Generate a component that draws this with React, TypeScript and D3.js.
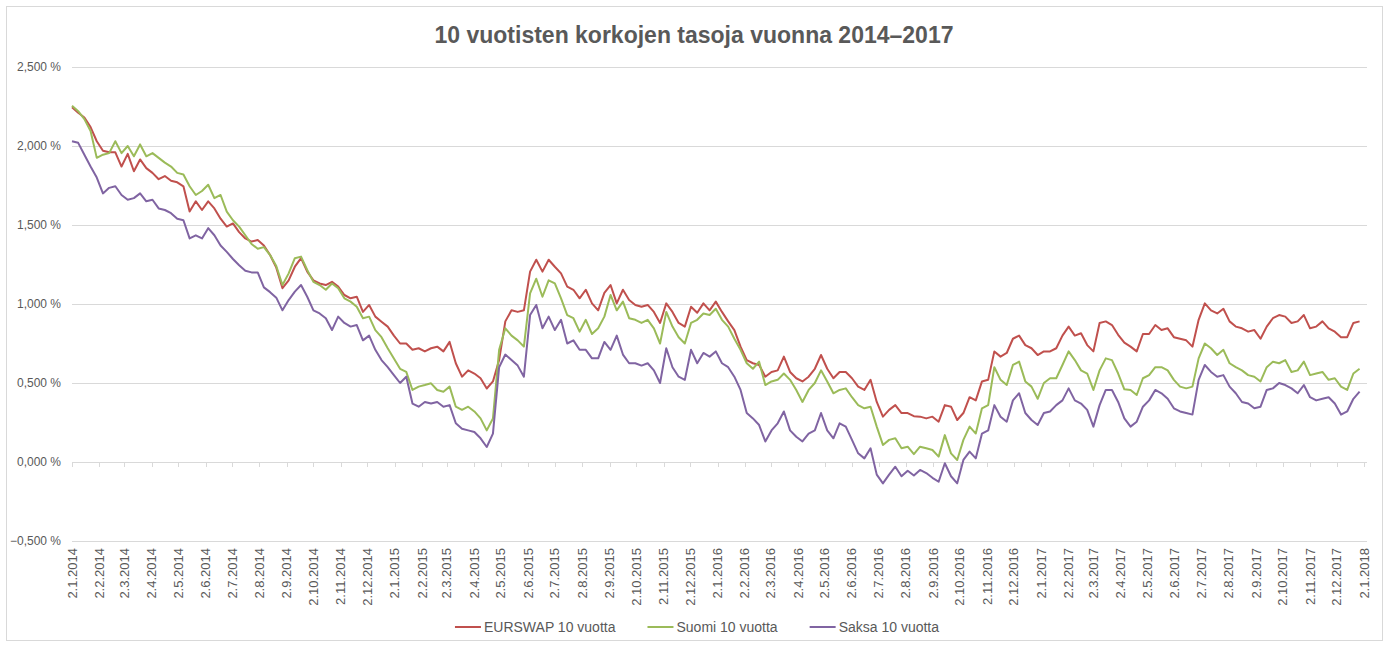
import React, { useEffect, useRef } from 'react';
import * as d3 from 'd3';

const chartTitle = '10 vuotisten korkojen tasoja vuonna 2014–2017';
const seriesNames = ['EURSWAP 10 vuotta', 'Suomi 10 vuotta', 'Saksa 10 vuotta'];
const seriesColors = ['#C0504D', '#9BBB59', '#8064A2'];
const yTicks = [-0.5, 0, 0.5, 1, 1.5, 2, 2.5];
const firstDay = new Date(2014, 0, 2);
const lastDay = new Date(2018, 0, 2);

// weekly readings, one every 7 days starting 2.1.2014 (%)
const eurswap = [
  2.245, 2.21, 2.18, 2.12, 2.03, 1.97, 1.96, 1.96, 1.87, 1.95,
  1.84, 1.915, 1.86, 1.83, 1.79, 1.81, 1.78, 1.77, 1.745, 1.585,
  1.65, 1.595, 1.65, 1.605, 1.54, 1.49, 1.51, 1.455, 1.415, 1.395,
  1.405, 1.37, 1.31, 1.23, 1.10, 1.15, 1.236, 1.29, 1.205, 1.15,
  1.13, 1.12, 1.14, 1.11, 1.057, 1.036, 1.046, 0.95, 0.994, 0.92,
  0.888, 0.857, 0.80, 0.75, 0.75, 0.71, 0.72, 0.70, 0.72, 0.73,
  0.70, 0.76, 0.625, 0.54, 0.58, 0.56, 0.53, 0.465, 0.51, 0.645,
  0.89, 0.96, 0.95, 0.96, 1.205, 1.28, 1.205, 1.28, 1.236, 1.194,
  1.11, 1.09, 1.036, 1.09, 1.004, 0.96, 1.07, 1.12, 1.004, 1.09,
  1.025, 0.994, 0.983, 0.994, 0.95, 0.88, 1.004, 0.95, 0.88, 0.857,
  0.983, 0.945, 1.004, 0.96, 1.015, 0.95, 0.89, 0.835, 0.73, 0.645,
  0.625, 0.614, 0.54, 0.57, 0.58, 0.667, 0.57, 0.53, 0.51, 0.54,
  0.59, 0.677, 0.59, 0.53, 0.57, 0.57, 0.53, 0.477, 0.456, 0.52,
  0.38, 0.287, 0.33, 0.36, 0.31, 0.31, 0.29, 0.287, 0.276, 0.287,
  0.255, 0.36, 0.35, 0.266, 0.31, 0.41, 0.39, 0.51, 0.52, 0.70,
  0.667, 0.69, 0.78, 0.80, 0.74, 0.72, 0.677, 0.70, 0.70, 0.72,
  0.80, 0.857, 0.80, 0.815, 0.74, 0.70, 0.88, 0.89, 0.867, 0.805,
  0.755, 0.73, 0.70, 0.81, 0.81, 0.867, 0.835, 0.846, 0.79, 0.78,
  0.77, 0.73, 0.90, 1.004, 0.96, 0.94, 0.97, 0.89, 0.857, 0.846,
  0.825, 0.835, 0.78, 0.857, 0.91, 0.93, 0.92, 0.88, 0.89, 0.93,
  0.846, 0.857, 0.89, 0.846, 0.825, 0.79, 0.79, 0.88, 0.89,
];

const suomi = [
  2.255, 2.22, 2.17, 2.095, 1.925, 1.945, 1.955, 2.03, 1.955, 2.0,
  1.935, 2.01, 1.935, 1.955, 1.925, 1.895, 1.87, 1.83, 1.82, 1.745,
  1.69, 1.715, 1.755, 1.67, 1.69, 1.585, 1.53, 1.49, 1.435, 1.38,
  1.35, 1.36, 1.31, 1.24, 1.12, 1.194, 1.29, 1.30, 1.215, 1.14,
  1.12, 1.09, 1.13, 1.10, 1.036, 1.015, 0.983, 0.91, 0.92, 0.835,
  0.79, 0.72, 0.655, 0.59, 0.57, 0.456, 0.477, 0.487, 0.498, 0.456,
  0.445, 0.477, 0.35, 0.33, 0.35, 0.32, 0.276, 0.20, 0.275, 0.71,
  0.846, 0.80, 0.77, 0.73, 1.067, 1.16, 1.046, 1.15, 1.13, 1.036,
  0.93, 0.91, 0.825, 0.90, 0.81, 0.846, 0.92, 1.057, 0.96, 1.015,
  0.91, 0.90, 0.88, 0.90, 0.846, 0.75, 0.95, 0.857, 0.79, 0.75,
  0.88, 0.90, 0.94, 0.93, 0.97, 0.90, 0.857, 0.78, 0.71, 0.625,
  0.59, 0.635, 0.487, 0.51, 0.52, 0.56, 0.52, 0.456, 0.38, 0.456,
  0.50, 0.58, 0.51, 0.435, 0.456, 0.466, 0.41, 0.36, 0.34, 0.35,
  0.224, 0.108, 0.14, 0.15, 0.087, 0.097, 0.05, 0.097, 0.087, 0.076,
  0.034, 0.17, 0.055, 0.013, 0.14, 0.224, 0.18, 0.34, 0.36, 0.60,
  0.52, 0.487, 0.614, 0.635, 0.51, 0.477, 0.40, 0.50, 0.53, 0.53,
  0.614, 0.70, 0.645, 0.58, 0.56, 0.456, 0.58, 0.656, 0.645, 0.56,
  0.46, 0.456, 0.424, 0.53, 0.55, 0.60, 0.60, 0.58, 0.52, 0.477,
  0.466, 0.477, 0.656, 0.75, 0.72, 0.677, 0.71, 0.625, 0.60, 0.58,
  0.55, 0.54, 0.51, 0.60, 0.635, 0.625, 0.645, 0.57, 0.58, 0.635,
  0.55, 0.56, 0.57, 0.52, 0.53, 0.477, 0.456, 0.56, 0.59,
];

const saksa = [
  2.03, 2.02, 1.945, 1.87, 1.80, 1.70, 1.735, 1.745, 1.69, 1.66,
  1.67, 1.70, 1.65, 1.66, 1.605, 1.595, 1.575, 1.54, 1.53, 1.415,
  1.435, 1.415, 1.48, 1.435, 1.37, 1.33, 1.285, 1.245, 1.21, 1.20,
  1.20, 1.105, 1.075, 1.04, 0.96, 1.025, 1.078, 1.12, 1.046, 0.96,
  0.94, 0.91, 0.835, 0.92, 0.88, 0.857, 0.867, 0.77, 0.80, 0.71,
  0.645, 0.60, 0.55, 0.50, 0.54, 0.37, 0.35, 0.38, 0.37, 0.38,
  0.35, 0.36, 0.245, 0.21, 0.20, 0.19, 0.15, 0.095, 0.18, 0.60,
  0.68, 0.645, 0.61, 0.54, 0.93, 0.994, 0.846, 0.92, 0.835, 0.90,
  0.75, 0.77, 0.71, 0.71, 0.656, 0.656, 0.76, 0.71, 0.80, 0.68,
  0.625, 0.625, 0.61, 0.625, 0.58, 0.50, 0.72, 0.60, 0.54, 0.52,
  0.71, 0.625, 0.69, 0.667, 0.70, 0.625, 0.60, 0.54, 0.456, 0.31,
  0.276, 0.234, 0.13, 0.20, 0.245, 0.32, 0.20, 0.16, 0.13, 0.18,
  0.20, 0.31, 0.20, 0.15, 0.245, 0.224, 0.14, 0.055, 0.023, 0.087,
  -0.08, -0.135, -0.08, -0.03, -0.09, -0.055, -0.085, -0.05, -0.07, -0.10,
  -0.125, -0.008, -0.09, -0.135, 0.013, 0.066, 0.023, 0.18, 0.20, 0.36,
  0.287, 0.255, 0.39, 0.435, 0.31, 0.266, 0.234, 0.31, 0.32, 0.36,
  0.39, 0.466, 0.39, 0.37, 0.33, 0.224, 0.36, 0.456, 0.456, 0.38,
  0.276, 0.224, 0.255, 0.35, 0.39, 0.456, 0.435, 0.40, 0.34, 0.32,
  0.31, 0.30, 0.52, 0.614, 0.57, 0.54, 0.55, 0.477, 0.435, 0.38,
  0.37, 0.34, 0.35, 0.456, 0.466, 0.50, 0.487, 0.466, 0.435, 0.487,
  0.41, 0.39, 0.40, 0.41, 0.37, 0.30, 0.32, 0.40, 0.445,
];

const allSeries = [eurswap, suomi, saksa];

const W = 1389;
const H = 646;
const FONT = '"Liberation Sans", Arial, sans-serif';
const TEXT = '#595959';
const GRID = '#D9D9D9';

export default function App() {
  const ref = useRef<SVGSVGElement>(null);

  useEffect(() => {
    document.body.style.margin = '0';
    const svg = d3.select(ref.current);
    svg.selectAll('*').remove();

    const x = d3.scaleTime().domain([firstDay, lastDay]).range([72, 1364]);
    const y = d3.scaleLinear().domain([-0.5, 2.5]).range([541, 67]);

    // chart border
    svg.append('rect')
      .attr('x', 6.5).attr('y', 6.5)
      .attr('width', 1376).attr('height', 634)
      .attr('fill', '#fff').attr('stroke', GRID);

    // title
    svg.append('text')
      .attr('x', 694).attr('y', 43)
      .attr('text-anchor', 'middle')
      .attr('font-family', FONT).attr('font-size', 23).attr('font-weight', 'bold')
      .attr('fill', TEXT)
      .text(chartTitle);

    // grid + y labels
    const fmt = d3.format('.3f');
    svg.append('g').selectAll('line').data(yTicks).enter().append('line')
      .attr('x1', 72).attr('x2', 1367)
      .attr('y1', d => Math.round(y(d)) + 0.5).attr('y2', d => Math.round(y(d)) + 0.5)
      .attr('stroke', GRID).attr('stroke-width', 1);
    svg.append('g').selectAll('text').data(yTicks).enter().append('text')
      .attr('x', 61).attr('y', d => y(d) + 4)
      .attr('text-anchor', 'end')
      .attr('font-family', FONT).attr('font-size', 12).attr('fill', TEXT)
      .text(d => fmt(d).replace('.', ',') + ' %');

    // x axis ticks on the zero line, labels at the bottom
    const months = d3.timeMonth.range(new Date(2014, 0, 1), new Date(2018, 0, 2)).map(m => d3.timeDay.offset(m, 1));
    const tickFmt = d3.timeFormat('%-d.%-m.%Y');
    svg.append('g').selectAll('line').data(months).enter().append('line')
      .attr('x1', d => Math.round(x(d)) + 0.5).attr('x2', d => Math.round(x(d)) + 0.5)
      .attr('y1', y(0)).attr('y2', y(0) + 5)
      .attr('stroke', GRID);
    svg.append('g').selectAll('text').data(months).enter().append('text')
      .attr('transform', d => 'translate(' + (x(d) + 4.5) + ',548) rotate(-90)')
      .attr('text-anchor', 'end')
      .attr('font-family', FONT).attr('font-size', 13).attr('fill', TEXT)
      .text(d => tickFmt(d));

    // series lines
    const line = d3.line<number>()
      .x((d, i) => x(d3.timeDay.offset(firstDay, i * 7)))
      .y(d => y(d));
    allSeries.forEach((vals, k) => {
      svg.append('path')
        .datum(vals)
        .attr('d', line)
        .attr('fill', 'none')
        .attr('stroke', seriesColors[k])
        .attr('stroke-width', 2)
        .attr('stroke-linejoin', 'round');
    });

    // legend
    const legend = svg.append('g');
    let cx = 0;
    seriesNames.forEach((name, k) => {
      const g = legend.append('g').attr('transform', 'translate(' + cx + ',0)');
      g.append('line').attr('x1', 0).attr('x2', 26).attr('y1', 627).attr('y2', 627)
        .attr('stroke', seriesColors[k]).attr('stroke-width', 2);
      const t = g.append('text').attr('x', 29).attr('y', 632)
        .attr('font-family', FONT).attr('font-size', 14).attr('fill', TEXT)
        .text(name);
      const w = (t.node() as SVGTextElement).getComputedTextLength();
      cx += 29 + w + 32;
    });
    const total = cx - 32;
    legend.attr('transform', 'translate(' + (697 - total / 2) + ',0)');
  }, []);

  return <svg ref={ref} width={W} height={H} style={{ display: 'block' }} />;
}
